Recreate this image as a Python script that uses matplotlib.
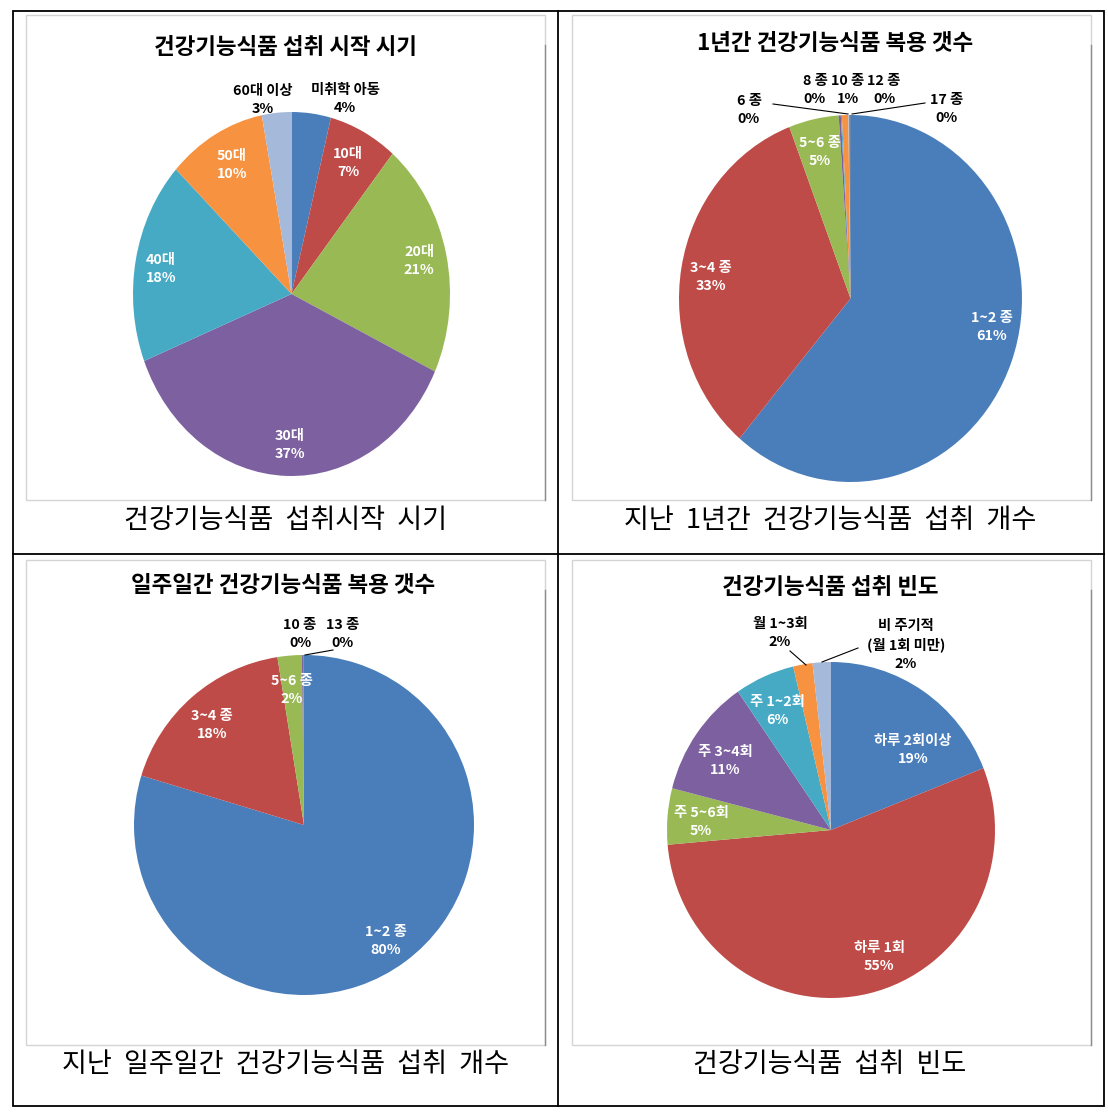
import matplotlib.pyplot as plt
from matplotlib.lines import Line2D
from matplotlib.patches import Rectangle

plt.rcParams['font.family'] = ['Noto Sans CJK KR', 'DejaVu Sans']

W, H = 1108, 1116

# 엑셀 기본 색상
colors = ['#4A7EBB', '#BE4B48', '#98B954', '#7D60A0', '#46AAC5',
          '#F69240', '#A5B9DA', '#2C4D75']

# 섭취 시작 시기 (%)
start_labels = ['미취학 아동', '10대', '20대', '30대', '40대', '50대', '60대 이상']
start_values = [4, 7, 21, 37, 18, 10, 3]

# 1년간 복용 갯수 (%)
year_labels = ['1~2 종', '3~4 종', '5~6 종', '6 종', '8 종', '10 종', '12 종', '17 종']
year_values = [61.2, 33.0, 4.7, 0.2, 0.1, 0.6, 0.1, 0.1]

# 일주일간 복용 갯수 (%)
week_labels = ['1~2 종', '3~4 종', '5~6 종', '10 종', '13 종']
week_values = [79.7, 17.8, 2.3, 0.1, 0.1]

# 섭취 빈도 (%)
freq_labels = ['하루 2회이상', '하루 1회', '주 5~6회', '주 3~4회', '주 1~2회',
               '월 1~3회', '비 주기적\n(월 1회 미만)']
freq_values = [19.0, 54.6, 5.4, 11.4, 5.9, 1.9, 1.8]

charts = [
    dict(title='건강기능식품 섭취 시작 시기', title_xy=(285, 47),
         caption='건강기능식품  섭취시작  시기', caption_xy=(285, 521),
         frame=(26, 15, 545, 500), center=(291.5, 294), radius=(158.5, 182),
         labels=start_labels, values=start_values,
         label_xy=[(345, 99), (348, 163), (419, 261), (290, 445), (161, 269), (232, 165), (263, 100)],
         outside=[0, 6], leaders=[]),
    dict(title='1년간 건강기능식품 복용 갯수', title_xy=(835, 43),
         caption='지난  1년간  건강기능식품  섭취  개수', caption_xy=(830, 521),
         frame=(572, 15, 1091, 500), center=(850.5, 298.5), radius=(171.5, 183.5),
         labels=year_labels, values=year_values,
         label_xy=[(992, 327), (711, 277), (820, 152), (749, 110), (815, 90), (848, 90), (884, 90), (947, 109)],
         outside=[3, 4, 5, 6, 7], leaders=[((773, 104), (848, 114)), ((925, 103), (852, 114))]),
    dict(title='일주일간 건강기능식품 복용 갯수', title_xy=(283, 585),
         caption='지난  일주일간  건강기능식품  섭취  개수', caption_xy=(285, 1064),
         frame=(26, 560, 545, 1045), center=(304, 825), radius=(170, 170),
         labels=week_labels, values=week_values,
         label_xy=[(386, 941), (212, 725), (292, 690), (300, 634), (343, 634)],
         outside=[3, 4], leaders=[((333, 650), (305, 655))]),
    dict(title='건강기능식품 섭취 빈도', title_xy=(830, 587),
         caption='건강기능식품  섭취  빈도', caption_xy=(830, 1064),
         frame=(572, 560, 1091, 1045), center=(831, 830), radius=(164, 168),
         labels=freq_labels, values=freq_values,
         label_xy=[(913, 750), (879, 957), (701, 822), (725, 761), (777, 711), (780, 633), (906, 645)],
         outside=[5, 6], leaders=[((790, 651), (806, 665)), ((858, 648), (822, 662))]),
]


def fx(x):
    return x / W


def fy(y):
    return 1 - y / H


fig = plt.figure(figsize=(W / 100, H / 100), dpi=100)

# 표 테두리
fig.add_artist(Rectangle((fx(13), fy(1106)), fx(1104) - fx(13), fy(11) - fy(1106),
                         transform=fig.transFigure, fill=False, ec='black', lw=1.3))
fig.add_artist(Line2D([fx(558), fx(558)], [fy(11), fy(1106)], transform=fig.transFigure, color='black', lw=1.3))
fig.add_artist(Line2D([fx(13), fx(1104)], [fy(554), fy(554)], transform=fig.transFigure, color='black', lw=1.3))

for c in charts:
    x0, y0, x1, y1 = c['frame']
    fig.add_artist(Rectangle((fx(x0), fy(y1)), fx(x1) - fx(x0), fy(y0) - fy(y1),
                             transform=fig.transFigure, fill=False, ec='#D4D4D4', lw=1))
    fig.add_artist(Line2D([fx(x1), fx(x1)], [fy(y0 + 30), fy(y1)], transform=fig.transFigure,
                          color='#8C8C8C', lw=1))

    cx, cy = c['center']
    rx, ry = c['radius']
    ax = fig.add_axes([fx(cx - rx), fy(cy + ry), 2 * rx / W, 2 * ry / H])
    ax.pie(c['values'], colors=colors[:len(c['values'])], startangle=90,
           counterclock=False, wedgeprops=dict(linewidth=0))
    ax.set_aspect('auto')
    ax.set_xlim(-1, 1)
    ax.set_ylim(-1, 1)
    ax.axis('off')

    for i, (name, v) in enumerate(zip(c['labels'], c['values'])):
        lx, ly = c['label_xy'][i]
        col = 'black' if i in c['outside'] else 'white'
        fig.text(fx(lx), fy(ly), f'{name}\n{round(v)}%', ha='center', va='center',
                 fontsize=10.3, fontweight='bold', color=col, linespacing=1.4)

    for (ax0, ay0), (ax1, ay1) in c['leaders']:
        fig.add_artist(Line2D([fx(ax0), fx(ax1)], [fy(ay0), fy(ay1)],
                              transform=fig.transFigure, color='black', lw=0.8))

    tx, ty = c['title_xy']
    fig.text(fx(tx), fy(ty), c['title'], ha='center', va='center',
             fontsize=16.2, fontweight='bold')
    kx, ky = c['caption_xy']
    fig.text(fx(kx), fy(ky), c['caption'], ha='center', va='center', fontsize=19.5)

fig.savefig('out.png', dpi=100)
